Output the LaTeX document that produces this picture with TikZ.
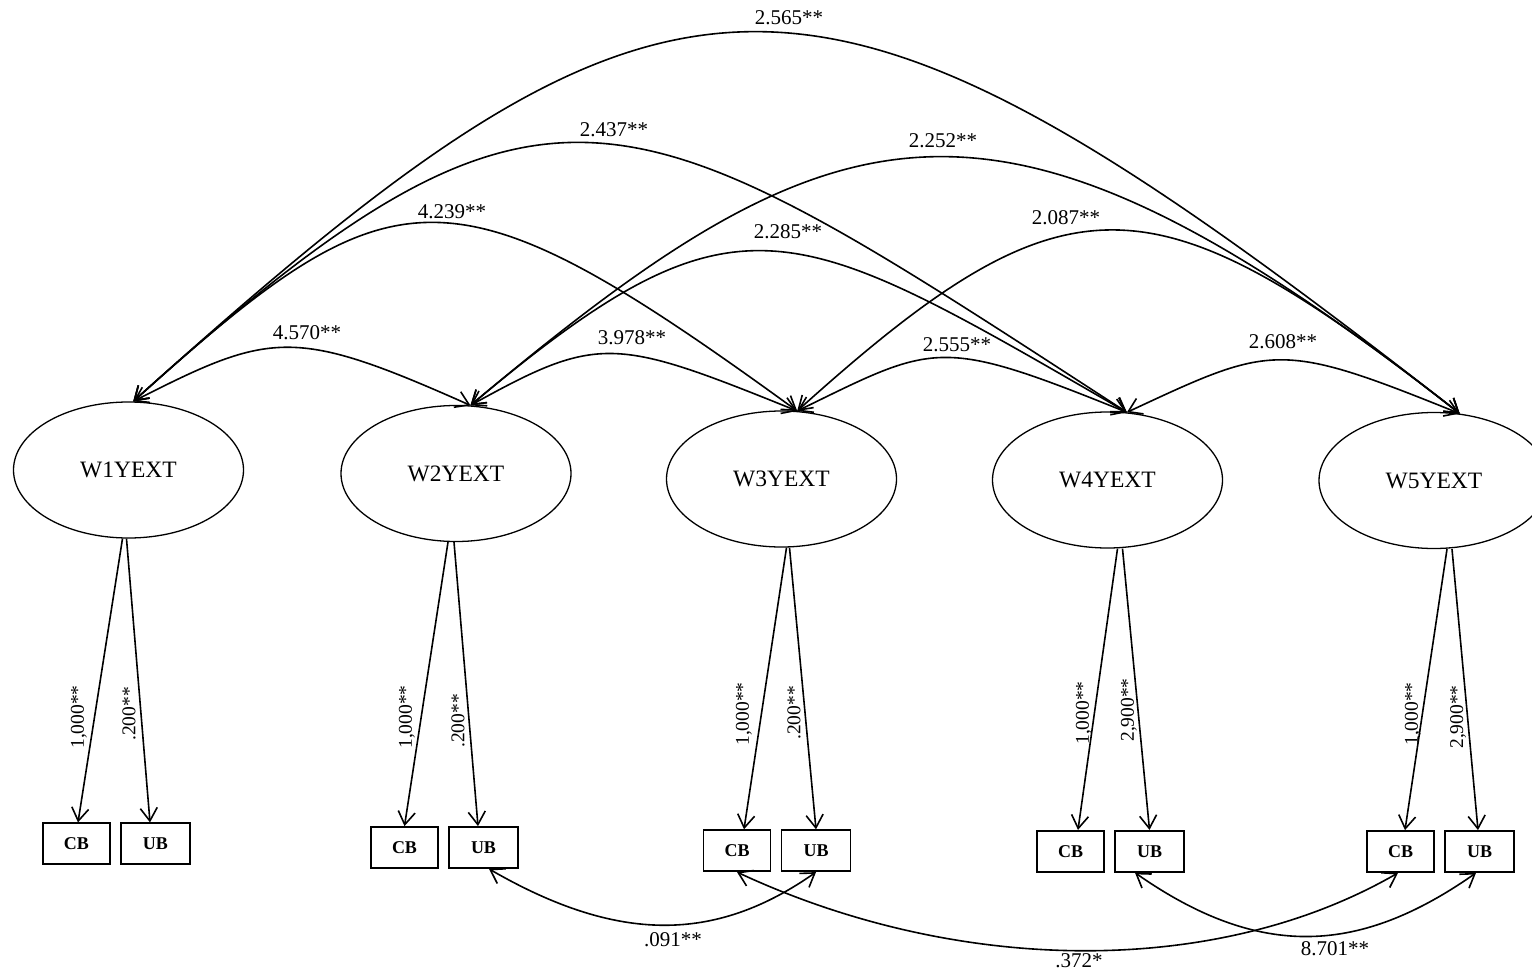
\documentclass[tikz,border=0pt]{standalone}
\usepackage{fontspec}
\setmainfont{Liberation Serif}
\usetikzlibrary{arrows.meta,shapes.geometric}
\begin{document}
\begin{tikzpicture}[x=1pt,y=-1pt,
  >={Straight Barb[length=13pt,width=17pt]},
  latent/.style={draw, ellipse, line width=1.3pt, minimum width=230pt,
    minimum height=136pt, inner sep=0pt, font=\fontsize{23.5}{26}\selectfont},
  manifest/.style={draw, rectangle, line width=1.8pt, minimum height=41pt,
    inner sep=0pt, font=\bfseries\fontsize{18}{20}\selectfont},
  cbbox/.style={manifest, minimum width=67pt},
  ubbox/.style={manifest, minimum width=69pt},
  cov/.style={line width=1.6pt, <->},
  load/.style={line width=1.6pt, ->},
  est/.style={font=\fontsize{21}{24}\selectfont, inner sep=0pt},
  lest/.style={font=\fontsize{19.5}{22}\selectfont, inner sep=0pt, rotate=90}
]
\useasboundingbox (0,0) rectangle (1532,974);
\clip (0,0) rectangle (1532,974);
\fill[white] (0,0) rectangle (1532,974);

% latent factors, one per wave
\node[latent] (W1) at (128.5,470)   {W1YEXT};
\node[latent] (W2) at (456,473.5)   {W2YEXT};
\node[latent] (W3) at (781.5,479)   {W3YEXT};
\node[latent] (W4) at (1107.5,480)  {W4YEXT};
\node[latent] (W5) at (1434,480.5)  {W5YEXT};

% indicators
\node[cbbox] (CB1) at (76.5,843.8)   {CB};
\node[ubbox] (UB1) at (155.5,843.8)  {UB};
\node[cbbox] (CB2) at (404.5,847.5)  {CB};
\node[ubbox] (UB2) at (483.5,847.5)  {UB};
\node[cbbox] (CB3) at (737,850.7)    {CB};
\node[ubbox] (UB3) at (816,850.7)    {UB};
\node[cbbox] (CB4) at (1070.5,851.3) {CB};
\node[ubbox] (UB4) at (1149.5,851.3) {UB};
\node[cbbox] (CB5) at (1400.5,851.5) {CB};
\node[ubbox] (UB5) at (1479.5,851.5) {UB};

% factor loadings
\draw[load] ([xshift=-6pt]W1.south) -- ([xshift=1.5pt]CB1.north);
\draw[load] ([xshift=-2pt]W1.south) -- ([xshift=-5.5pt]UB1.north);
\draw[load] ([xshift=-8pt]W2.south) -- (CB2.north);
\draw[load] ([xshift=-2pt]W2.south) -- ([xshift=-5.5pt]UB2.north);
\draw[load] ([xshift=5pt]W3.south)  -- ([xshift=7pt]CB3.north);
\draw[load] ([xshift=8pt]W3.south)  -- (UB3.north);
\draw[load] ([xshift=10pt]W4.south) -- ([xshift=7.5pt]CB4.north);
\draw[load] ([xshift=15pt]W4.south) -- (UB4.north);
\draw[load] ([xshift=13pt]W5.south) -- ([xshift=4.5pt]CB5.north);
\draw[load] ([xshift=18pt]W5.south) -- ([xshift=-1.5pt]UB5.north);

\node[lest] (a1) at (79,717)   {1,000**};
\node[lest] (b1) at (129,714)  {.200**};
\node[lest] (a2) at (407,717)  {1,000**};
\node[lest] (b2) at (458,721)  {.200**};
\node[lest] (a3) at (744,714)  {1,000**};
\node[lest] (b3) at (794,713)  {.200**};
\node[lest] (a4) at (1084,713) {1,000**};
\node[lest] (b4) at (1129,710) {2,900**};
\node[lest] (a5) at (1413,714) {1,000**};
\node[lest] (b5) at (1458,717) {2,900**};

% covariance end points on the factors
\coordinate (t1) at (W1.86);
\coordinate (t2) at (W2.78);
\coordinate (t3) at (W3.77);
\coordinate (t4) at (W4.74);
\coordinate (t5) at (W5.69);

% covariances between factors
\draw[cov] (t1) .. controls +(138.1,-70.4) and +(-176.9,-78.7) .. (t2);
\draw[cov] (t2) .. controls +(128.3,-71.1) and +(-183.1,-74.0) .. (t3);
\draw[cov] (t3) .. controls +(138.4,-67.5) and +(-189.1,-76.4) .. (t4);
\draw[cov] (t4) .. controls +(145.5,-67.8) and +(-181.4,-73.3) .. (t5);
\draw[cov] (t1) .. controls +(261.4,-235.4) and +(-349.4,-253.9) .. (t3);
\draw[cov] (t2) .. controls +(268.7,-225.5) and +(-336.7,-194.4) .. (t4);
\draw[cov] (t3) .. controls +(271.8,-244.8) and +(-307.8,-240.5) .. (t5);
\draw[cov] (t1) .. controls +(417.7,-376.1) and +(-502.9,-326.5) .. (t4);
\draw[cov] (t2) .. controls +(370.3,-310.7) and +(-463.6,-362.2) .. (t5);
\draw[cov] (t1) .. controls +(547.7,-493.2) and +(-650.3,-508.1) .. (t5);

\node[est] (c12) at (307,333)  {4.570**};
\node[est] (c23) at (632,338)  {3.978**};
\node[est] (c34) at (957,345)  {2.555**};
\node[est] (c45) at (1283,342) {2.608**};
\node[est] (c13) at (452,212)  {4.239**};
\node[est] (c24) at (788,232)  {2.285**};
\node[est] (c35) at (1066,218) {2.087**};
\node[est] (c14) at (614,130)  {2.437**};
\node[est] (c25) at (943,141)  {2.252**};
\node[est] (c15) at (789,18)   {2.565**};

% residual covariances between indicators
\draw[cov] ([xshift=5.5pt]UB2.south) .. controls +(129.0,74.5) and +(-101.0,70.7) .. (UB3.south);
\draw[cov] (CB3.south) .. controls +(220.0,102.6) and +(-182.6,105.4) .. ([xshift=-2.5pt]CB5.south);
\draw[cov] ([xshift=-14.5pt]UB4.south) .. controls +(126.7,88.7) and +(-114.7,80.3) .. ([xshift=-3.5pt]UB5.south);

\node[est] (r23) at (673,940)  {.091**};
\node[est] (r35) at (1079,961) {.372*};
\node[est] (r45) at (1335,949) {8.701**};
\end{tikzpicture}
\end{document}
